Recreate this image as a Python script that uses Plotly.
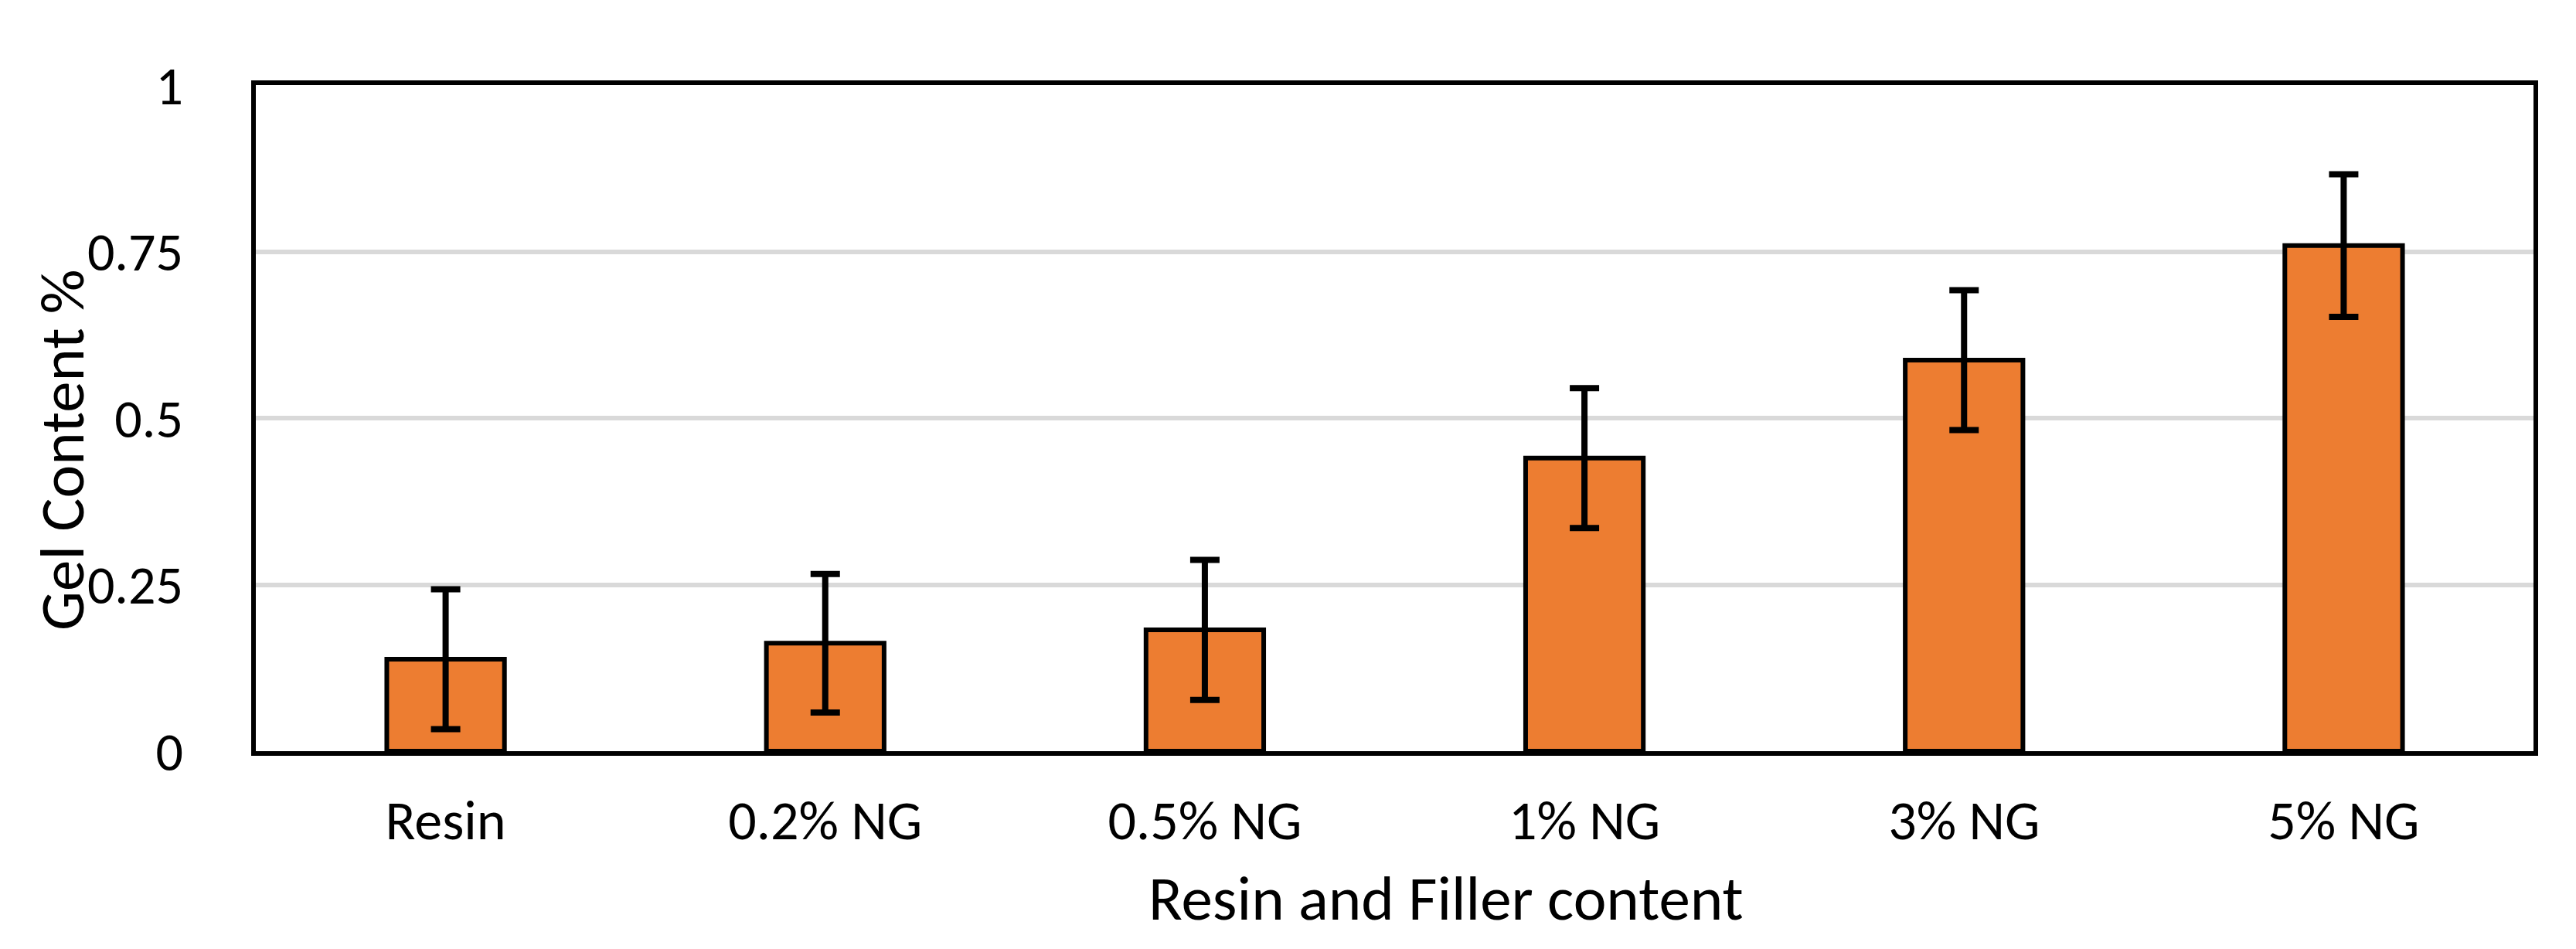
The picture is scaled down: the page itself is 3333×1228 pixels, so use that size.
import plotly.graph_objects as go

categories = ["Resin", "0.2% NG", "0.5% NG", "1% NG", "3% NG", "5% NG"]
gel_content = [0.138, 0.162, 0.182, 0.440, 0.587, 0.759]
gel_error = [0.105, 0.104, 0.105, 0.105, 0.105, 0.107]
y_ticks = [0, 0.25, 0.5, 0.75, 1]
y_tick_labels = ["0", "0.25", "0.5", "0.75", "1"]

FONT = "Carlito, Calibri, Lato, sans-serif"

fig = go.Figure()
fig.add_trace(go.Bar(
    x=categories,
    y=gel_content,
    width=0.31,
    marker=dict(color="#ED7D31", line=dict(color="black", width=6)),
    error_y=dict(type="data", array=gel_error, visible=True,
                 color="black", thickness=8, width=19),
))

W, H = 3333, 1228
L, R, T, B = 323, 63, 102, 264
pw = W - L - R
ph = H - T - B

fig.update_layout(
    width=W, height=H,
    margin=dict(l=L, r=R, t=T, b=B, pad=0),
    paper_bgcolor="white", plot_bgcolor="white",
    showlegend=False,
    font=dict(family=FONT, size=72, color="black"),
)
fig.update_xaxes(
    range=[-0.5, 5.5],
    showline=True, linecolor="black", linewidth=6, mirror=True,
    showgrid=False, ticks="", tickfont=dict(family=FONT, size=72, color="black"),
    ticklabelstandoff=22,
)
fig.update_yaxes(
    range=[0, 1],
    tickvals=y_ticks, ticktext=y_tick_labels,
    showline=True, linecolor="black", linewidth=6, mirror=True,
    showgrid=True, gridcolor="#D9D9D9", gridwidth=6,
    zeroline=False, ticks="",
    tickfont=dict(family=FONT, size=70, color="black"),
    ticklabelstandoff=74,
)

fig.add_annotation(
    text="Gel Content %", textangle=-90,
    xref="paper", yref="paper",
    x=(72 - L) / pw, y=(H - B - 574) / ph,
    xanchor="center", yanchor="middle", showarrow=False,
    font=dict(family=FONT, size=81, color="black"),
)
fig.add_annotation(
    text="Resin and Filler content",
    xref="paper", yref="paper",
    x=(1863 - L) / pw, y=(H - B - 1154) / ph,
    xanchor="center", yanchor="middle", showarrow=False,
    font=dict(family=FONT, size=81, color="black"),
)

fig.write_html("out.html")
